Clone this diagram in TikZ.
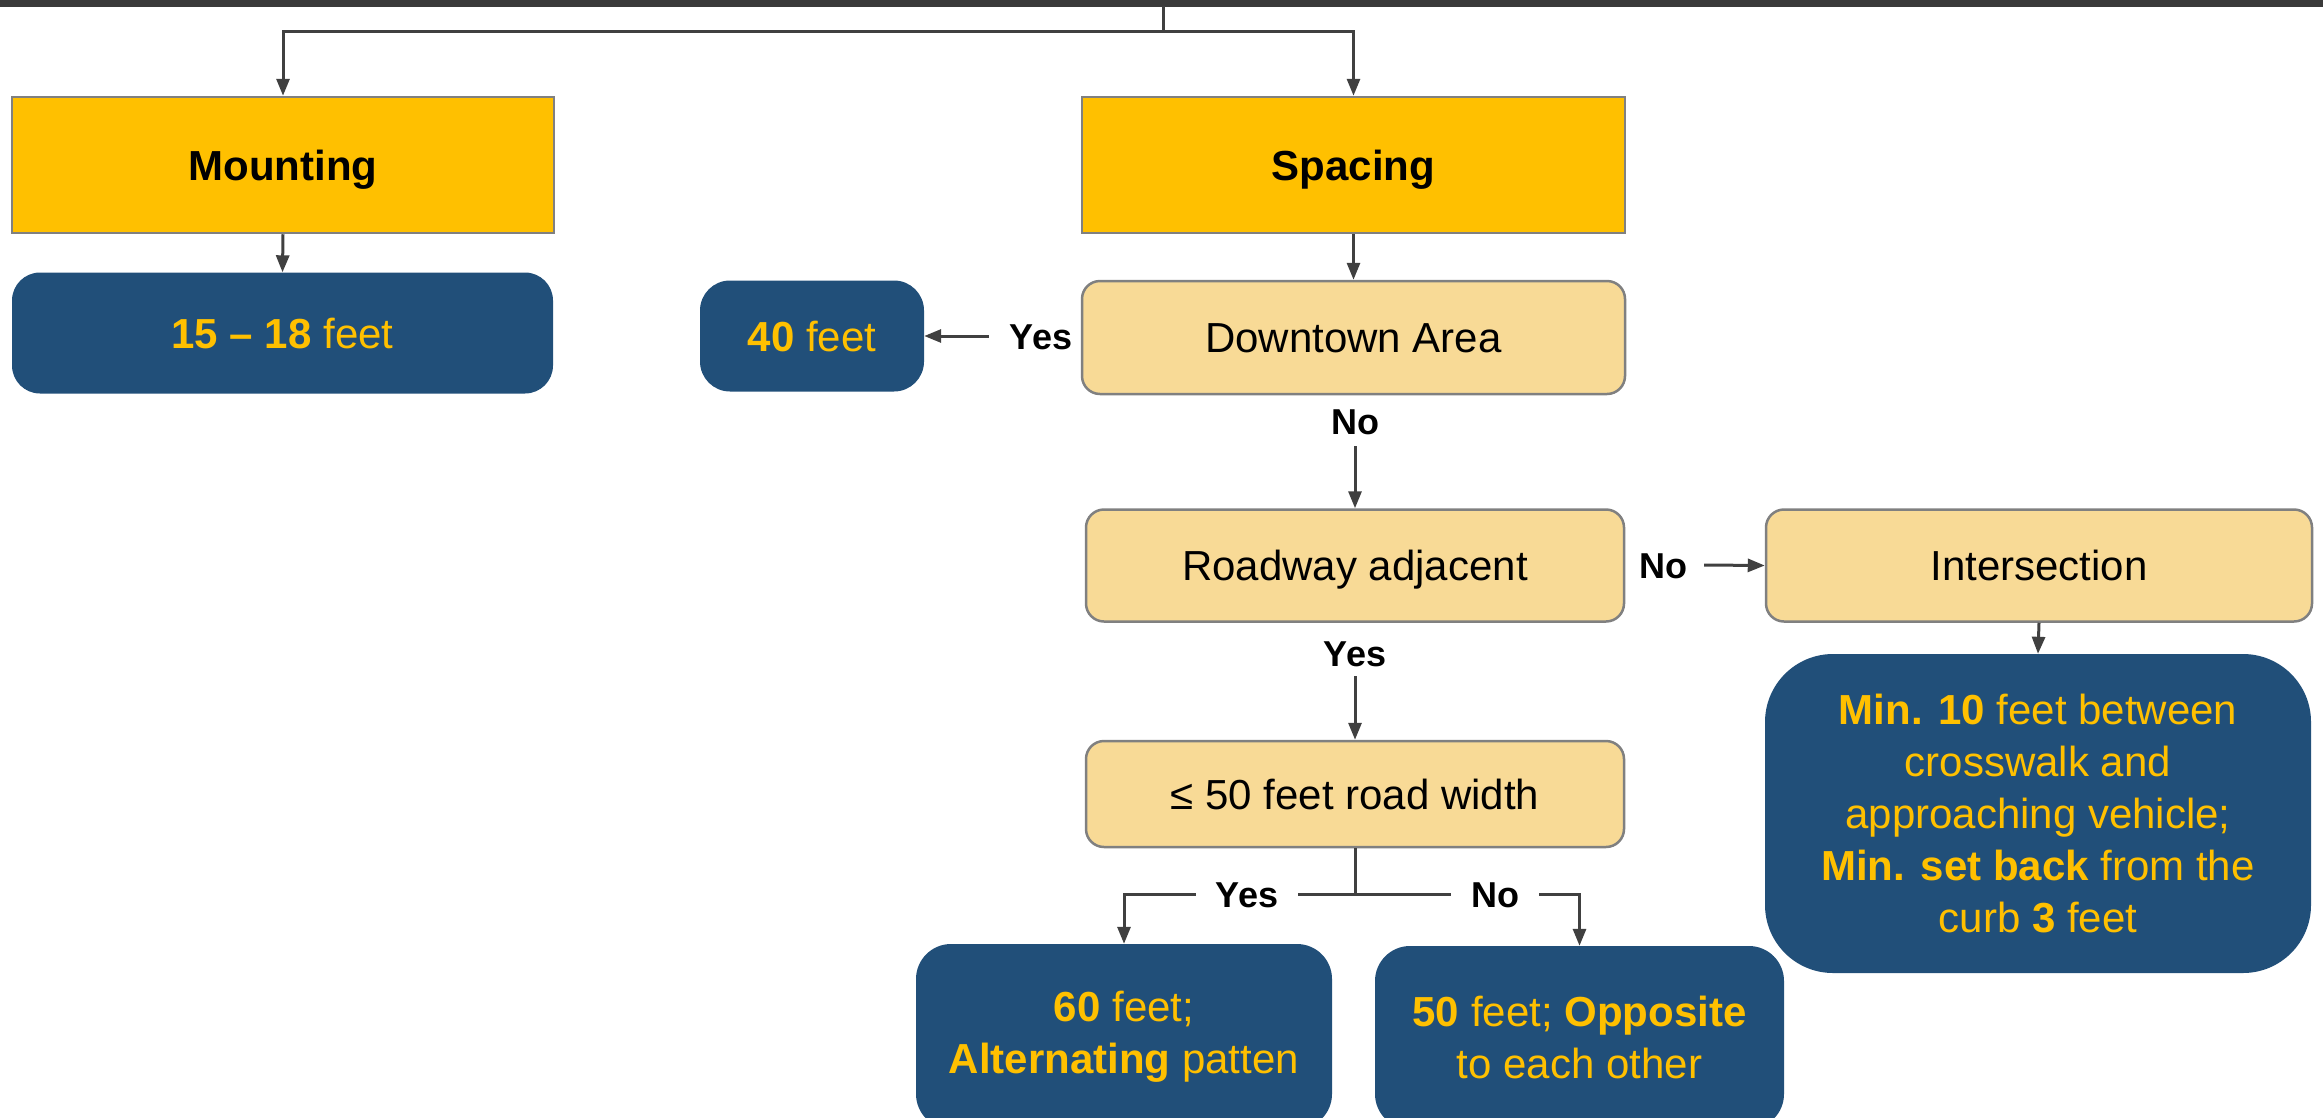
\documentclass[tikz,border=0pt]{standalone}
\usepackage{fontspec}
\setmainfont{Liberation Sans}
\usetikzlibrary{arrows.meta}
\definecolor{gold}{HTML}{FFC000}
\definecolor{navy}{HTML}{214F79}
\definecolor{cream}{HTML}{F8DA96}
\definecolor{edgegray}{HTML}{808080}
\definecolor{lncol}{HTML}{404040}
\definecolor{barcol}{HTML}{3A3A3A}
\begin{document}
\begin{tikzpicture}[x=1pt,y=-1pt,
  font=\fontsize{42}{52}\selectfont,
  head/.style={draw=edgegray, line width=2.5pt, fill=gold, font=\fontsize{42}{52}\selectfont\bfseries, inner sep=0pt, text height=30pt, text depth=0pt},
  cond/.style={draw=edgegray, line width=2.5pt, fill=cream, rounded corners=18pt, inner sep=0pt, text height=30pt, text depth=0pt},
  res/.style={fill=navy, text=gold, inner sep=0pt, align=center},
  lbl/.style={font=\fontsize{36}{40}\selectfont\bfseries, inner sep=0pt, fill=white, text height=26pt, text depth=0pt},
  arr/.style={draw=lncol, line width=3pt, -{Triangle[length=17pt,width=13pt]}},
  plain/.style={draw=lncol, line width=3pt}
]
\useasboundingbox (0,0) rectangle (2323,1117);
\clip (0,0) rectangle (2323,1117);

% top bar
\fill[barcol] (0,-2) rectangle (2323,7);
\coordinate (stem) at (1163,6);
\coordinate (split) at (1163,31);

% header boxes
\node[head, minimum width=542pt, minimum height=136pt] (mount) at (283,165) {Mounting};
\node[head, minimum width=543pt, minimum height=136pt] (spac) at (1353.5,165) {Spacing};

% results
\node[res, rounded corners=28pt, minimum width=541pt, minimum height=121pt, text height=30pt, text depth=0pt] (r1518) at (282.5,333) {\textbf{15 – 18} feet};
\node[res, rounded corners=30pt, minimum width=224pt, minimum height=111pt, text height=30pt, text depth=0pt] (r40) at (812,336) {\textbf{40} feet};

% conditions
\node[cond, minimum width=543pt, minimum height=113pt] (down) at (1353.5,337.5) {Downtown Area};
\node[cond, minimum width=538pt, minimum height=112pt] (road) at (1355,565.5) {Roadway adjacent};
\node[cond, minimum width=546pt, minimum height=112pt] (inter) at (2039,565.5) {Intersection};
\node[cond, minimum width=538pt, minimum height=106pt] (le50) at (1355,794) {≤ 50 feet road width};

\node[res, rounded corners=68pt, minimum width=546pt, minimum height=319pt, text depth=0pt] (big) at (2038,813.5)
  {\textbf{Min. 10} feet between\\ crosswalk and\\ approaching vehicle;\\ \textbf{Min. set back} from the\\ curb \textbf{3} feet};
\node[res, rounded corners=35pt, minimum width=416pt, minimum height=185pt] (r60) at (1124,1036.5)
  {\textbf{60} feet;\\ \textbf{Alternating} patten};
\node[res, rounded corners=35pt, minimum width=409pt, minimum height=183pt] (r50) at (1579.5,1037.5)
  {\textbf{50} feet; \textbf{Opposite}\\ to each other};

% labels
\node[lbl] (yes1) at (1041,336) {Yes};
\node[lbl] (no1) at (1355,421) {No};
\node[lbl] (yes2) at (1355,653) {Yes};
\node[lbl] (no2) at (1663,565) {No};

% connectors
\draw[plain] (stem) -- (split);
\draw[arr] (split) -| (mount.north);
\draw[arr] (split) -| (spac.north);
\draw[arr] (mount.south) -- (r1518.north);
\draw[arr] (spac.south) -- (down.north);
\draw[arr] ([xshift=-21pt]yes1.west) -- (r40.east);
\draw[arr] ([yshift=-12pt]no1.south) -- (road.north);
\draw[arr] ([xshift=17pt]no2.east) -- (inter.west);
\draw[arr] ([yshift=-10pt]yes2.south) -- (le50.north);
\draw[arr] (inter.south) -- (big.north);

\coordinate (sp) at (1355,894);
\draw[plain] (le50.south) -- (sp);
\draw[arr] (sp) -| (r60.north);
\draw[arr] (sp) -| (r50.north);
\node[lbl, inner xsep=20pt] (yes3) at (1247,894) {Yes};
\node[lbl, inner xsep=20pt] (no3) at (1495,894) {No};
\end{tikzpicture}
\end{document}
